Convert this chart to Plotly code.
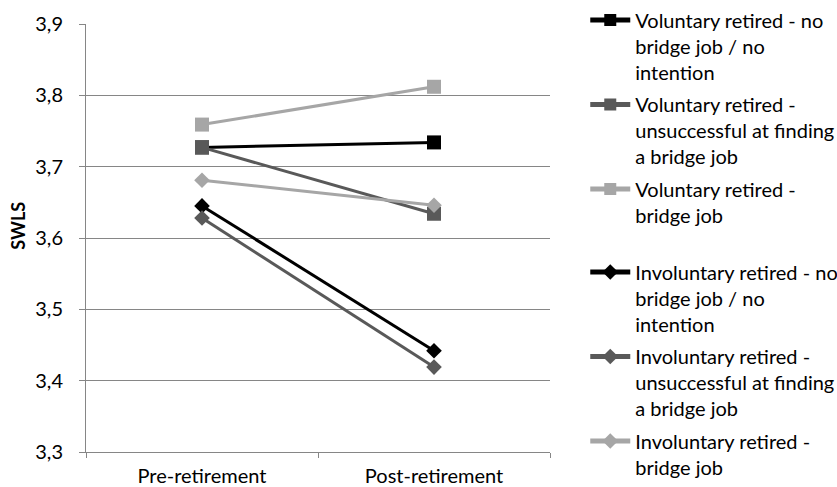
import plotly.graph_objects as go

# Mean SWLS scores before and after retirement, by retirement group
categories = ["Pre-retirement", "Post-retirement"]

vol_no_bridge = [3.727, 3.734]
vol_unsuccessful = [3.727, 3.634]
vol_bridge = [3.759, 3.812]
inv_no_bridge = [3.645, 3.442]
inv_unsuccessful = [3.628, 3.419]
inv_bridge = [3.681, 3.646]

series_names = [
    "Voluntary retired - no<br>bridge job / no<br>intention",
    "Voluntary retired -<br>unsuccessful at finding<br>a bridge job",
    "Voluntary retired -<br>bridge job",
    "Involuntary retired - no<br>bridge job / no<br>intention",
    "Involuntary retired -<br>unsuccessful at finding<br>a bridge job",
    "Involuntary retired -<br>bridge job",
]
series_values = [vol_no_bridge, vol_unsuccessful, vol_bridge,
                 inv_no_bridge, inv_unsuccessful, inv_bridge]

BLACK, DARK, LIGHT = "#000000", "#595959", "#a6a6a6"
colors = [BLACK, DARK, LIGHT, BLACK, DARK, LIGHT]
symbols = ["square"] * 3 + ["diamond"] * 3
sizes = [14] * 3 + [12] * 3
legends = ["legend"] * 3 + ["legend2"] * 3

FONT = "Lato"
FS = 20
GRID = "#868686"

fig = go.Figure()
for i, (name, vals) in enumerate(zip(series_names, series_values)):
    fig.add_trace(go.Scatter(
        x=categories, y=vals, name=name, mode="lines+markers",
        line=dict(color=colors[i], width=3),
        marker=dict(symbol=symbols[i], size=sizes[i], color=colors[i],
                    line=dict(width=0)),
        legend=legends[i], legendgroup=f"g{i}",
    ))

legend_style = dict(
    font=dict(family=FONT, size=FS, color="#000000"),
    valign="top", tracegroupgap=3.5, bgcolor="rgba(0,0,0,0)",
    xanchor="left", yanchor="top", x=1.076, itemsizing="constant",
    itemwidth=40,
)

fig.update_layout(
    width=837, height=487,
    margin=dict(l=86, r=287, t=24, b=35, autoexpand=False),
    paper_bgcolor="white", plot_bgcolor="white",
    separators=",.",
    font=dict(family=FONT, size=FS, color="#000000"),
    showlegend=True,
    legend=dict(legend_style, y=1.055),
    legend2=dict(legend_style, y=0.466),
    xaxis=dict(
        type="category", range=[-0.5, 1.5],
        showline=True, linecolor=GRID, linewidth=1,
        ticks="outside", tickson="boundaries", ticklen=5, tickcolor=GRID,
        showgrid=False, zeroline=False,
        tickfont=dict(family=FONT, size=FS), ticklabelstandoff=6,
    ),
    yaxis=dict(
        range=[3.3, 3.9], dtick=0.1, tick0=3.3, tickformat=".1f",
        showline=True, linecolor=GRID, linewidth=1,
        ticks="outside", ticklen=6, tickcolor=GRID,
        showgrid=True, gridcolor=GRID, gridwidth=1, zeroline=False,
        tickfont=dict(family=FONT, size=FS), ticklabelstandoff=12,
    ),
    annotations=[dict(
        text="<b>SWLS</b>", textangle=-90, showarrow=False,
        xref="paper", yref="paper", x=-0.147, y=0.528,
        xanchor="center", yanchor="middle",
        font=dict(family=FONT, size=18, color="#000000"),
    )],
)

fig.write_html("out.html")
